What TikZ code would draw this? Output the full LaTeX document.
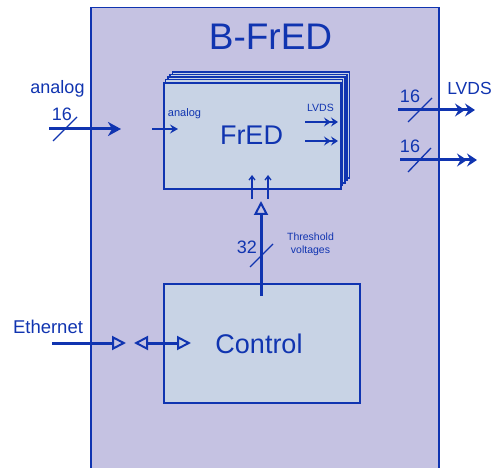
\documentclass[tikz,border=0pt]{standalone}
\usepackage{fontspec}
\setmainfont{Liberation Sans}
\usetikzlibrary{arrows.meta,calc,positioning}
\definecolor{fredblue}{RGB}{16,52,176}
\definecolor{boardfill}{RGB}{197,194,226}
\definecolor{chipfill}{RGB}{200,211,229}
\tikzset{
    boardbox/.style={draw=fredblue,fill=boardfill,line width=1.5pt,inner sep=0pt},
    chipbox/.style={draw=fredblue,fill=chipfill,line width=1.6pt,inner sep=0pt},
    busline/.style={draw=fredblue,line width=3pt},
    thinline/.style={draw=fredblue,line width=1.8pt},
    slashline/.style={draw=fredblue,line width=1.3pt},
    bigtip/.tip={Stealth[length=13pt,width=14pt,inset=4pt]},
    smalltip/.tip={Stealth[length=8pt,width=9pt,inset=3pt]},
    chevtip/.tip={Stealth[length=10pt,width=13pt,inset=3.5pt,sep=0pt]
                  Stealth[length=10pt,width=13pt,inset=3.5pt]},
    minichev/.tip={Stealth[length=7pt,width=9pt,inset=2.5pt,sep=0pt]
                   Stealth[length=7pt,width=9pt,inset=2.5pt]},
    opentip/.tip={Triangle[open,length=14pt,width=14pt,line width=2pt]},
    uptip/.tip={Straight Barb[length=4pt,width=6pt,line width=1.3pt]},
    every node/.style={text=fredblue,inner sep=0pt}
}

\begin{document}
\begin{tikzpicture}[x=1pt,y=-1pt]
  \useasboundingbox (0,0) rectangle (493,468);

  % Platine B-FrED
  \node[boardbox,anchor=north west,minimum width=348pt,minimum height=475pt]
    (board) at (90,7) {};
  \node[font=\fontsize{37}{40}\selectfont,anchor=base] (title) at (270.5,50) {B-FrED};

  % FrED-Stapel
  \foreach \k in {4,3,2,1}{
    \draw[chipbox,xshift=2.4*\k pt,yshift=2.5*\k pt] (163,82) rectangle (340,188);
  }
  \node[chipbox,anchor=north west,minimum width=177pt,minimum height=106pt]
    (fred) at (163,82) {};
  \node[font=\fontsize{27}{30}\selectfont,anchor=base] (fredlabel) at (251.5,145) {FrED};

  % Control
  \node[chipbox,anchor=north west,minimum width=196pt,minimum height=119pt]
    (control) at (163,283) {};
  \node[font=\fontsize{27}{30}\selectfont,anchor=base] (ctrllabel) at (259,353) {Control};

  % Eingang analog
  \coordinate (anain) at (49,129);
  \coordinate (anaend) at (121,129);
  \draw[busline,-{bigtip}] (anain) -- (anaend);
  \draw[slashline] (53,141) -- (77,117);
  \node[font=\fontsize{18}{20}\selectfont,anchor=base] (analog) at (57.5,94) {analog};
  \node[font=\fontsize{18}{20}\selectfont,anchor=base] (anawidth) at (62,121) {16};

  % innen: analog
  \coordinate (fredin) at (152,129);
  \coordinate (fredinend) at (178,129);
  \draw[thinline,-{smalltip}] (fredin) -- (fredinend);
  \node[font=\fontsize{11}{12}\selectfont,anchor=base] (anasmall) at (184.5,117) {analog};

  % innen: LVDS
  \coordinate (lv1a) at (305,122);
  \coordinate (lv1b) at (338,122);
  \coordinate (lv2a) at (305,141);
  \coordinate (lv2b) at (338,141);
  \draw[thinline,-{minichev}] (lv1a) -- (lv1b);
  \draw[thinline,-{minichev}] (lv2a) -- (lv2b);
  \node[font=\fontsize{10.5}{12}\selectfont,anchor=base] (lvdssmall) at (320.5,112) {LVDS};

  % Schwellen an FrED
  \coordinate (th1a) at (252,199);
  \coordinate (th1b) at (252,175);
  \coordinate (th2a) at (268,199);
  \coordinate (th2b) at (268,175);
  \draw[draw=fredblue,line width=1.4pt,-{uptip}] (th1a) -- (th1b);
  \draw[draw=fredblue,line width=1.4pt,-{uptip}] (th2a) -- (th2b);

  % Control -> FrED
  \coordinate (ctrlup) at (261,296);
  \coordinate (fredlow) at (261,201);
  \draw[busline,-{opentip}] (ctrlup) -- (fredlow);
  \draw[slashline] (250,267) -- (273,244);
  \node[font=\fontsize{18}{20}\selectfont,anchor=base] (thwidth) at (247,253) {32};
  \node[font=\fontsize{10.5}{12.5}\selectfont,align=center] (thlabel) at (310.5,244.5)
    {Threshold\\voltages};

  % Ausgaenge LVDS
  \coordinate (out1a) at (398,110);
  \coordinate (out1b) at (475,110);
  \coordinate (out2a) at (400,160);
  \coordinate (out2b) at (477,160);
  \draw[busline,-{chevtip}] (out1a) -- (out1b);
  \draw[busline,-{chevtip}] (out2a) -- (out2b);
  \draw[slashline] (408,122) -- (432,98);
  \draw[slashline] (408,172) -- (431,148);
  \node[font=\fontsize{18}{20}\selectfont,anchor=base] (outw1) at (410,103) {16};
  \node[font=\fontsize{18}{20}\selectfont,anchor=base] (outw2) at (410,153) {16};
  \node[font=\fontsize{17.5}{20}\selectfont,anchor=base] (lvds) at (469.5,95) {LVDS};

  % Ethernet
  \coordinate (ethin) at (52,343);
  \coordinate (ethend) at (126,343);
  \coordinate (etha) at (134,343);
  \coordinate (ethb) at (191,343);
  \draw[busline,-{opentip}] (ethin) -- (ethend);
  \draw[busline,{opentip}-{opentip}] (etha) -- (ethb);
  \node[font=\fontsize{18.5}{20}\selectfont,anchor=base] (eth) at (48,333) {Ethernet};
\end{tikzpicture}
\end{document}
